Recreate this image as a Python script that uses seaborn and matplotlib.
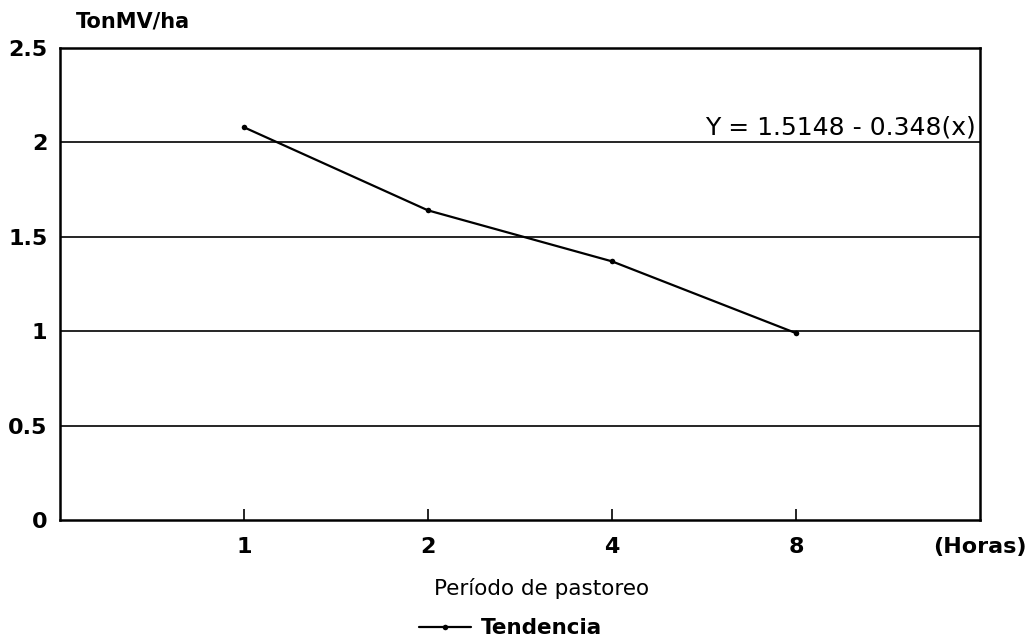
import pandas as pd

import matplotlib
matplotlib.use("Agg")

import matplotlib.pyplot as plt

import seaborn as sns


categories = ["1", "2", "4", "8"]

tendencia = [2.08, 1.64, 1.37, 0.99]

y_ticks = [0, 0.5, 1, 1.5, 2, 2.5]

y_tick_labels = ["0", "0.5", "1", "1.5", "2", "2.5"]

equation = "Y = 1.5148 - 0.348(x)"


def plot_tendencia():

    df = pd.DataFrame(
        {"periodo": categories, "ton": tendencia}
    )

    sns.set_style("white")

    plt.rcParams["font.family"] = ["DejaVu Sans"]
    plt.rcParams["text.color"] = "black"
    plt.rcParams["axes.labelcolor"] = "black"
    plt.rcParams["xtick.color"] = "black"
    plt.rcParams["ytick.color"] = "black"

    fig = plt.figure(figsize=(10.29, 6.44), dpi=100)

    ax = fig.add_axes([0.0583, 0.1925, 0.894, 0.733])

    # horizontal reference lines
    for y in y_ticks[1:-1]:
        ax.axhline(y, color="black", linewidth=1.2, zorder=1)

    sns.lineplot(
        data=df,
        x="periodo",
        y="ton",
        color="black",
        linewidth=1.6,
        marker="o",
        markersize=4,
        markeredgewidth=0,
        label="Tendencia",
        ax=ax,
        zorder=3,
    )

    ax.set_xlim(-1, 4)
    ax.set_ylim(0, 2.5)

    ax.set_yticks(y_ticks)
    ax.set_yticklabels(y_tick_labels, fontsize=16, fontweight="bold")

    ax.set_xticks(range(len(categories)))
    ax.set_xticklabels(categories, fontsize=16, fontweight="bold")

    ax.tick_params(axis="x", direction="in", length=8, width=1.2,
                   pad=12, bottom=True)
    ax.tick_params(axis="y", length=0, pad=9)

    for side in ["left", "right", "top", "bottom"]:
        ax.spines[side].set_visible(True)
        ax.spines[side].set_color("black")
        ax.spines[side].set_linewidth(1.8)

    ax.set_xlabel("Período de pastoreo", fontsize=15.5)
    ax.xaxis.set_label_coords(0.524, -0.122)
    ax.set_ylabel("")

    ax.text(4.0, -0.057, "(Horas)",
            transform=ax.get_xaxis_transform(),
            fontsize=16, fontweight="bold", ha="center", va="center")

    ax.text(3.98, 2.015, equation, fontsize=18, ha="right", va="bottom")

    fig.text(0.129, 0.966, "TonMV/ha", fontsize=15, fontweight="bold",
             ha="center", va="center")

    ax.legend(
        loc="center",
        bbox_to_anchor=(0.49, -0.229),
        frameon=False,
        prop={"size": 15.5, "weight": "bold"},
        handlelength=2.4,
        handletextpad=0.5,
    )

    fig.savefig("out.png", dpi=100)


if __name__ == "__main__":

    plot_tendencia()
